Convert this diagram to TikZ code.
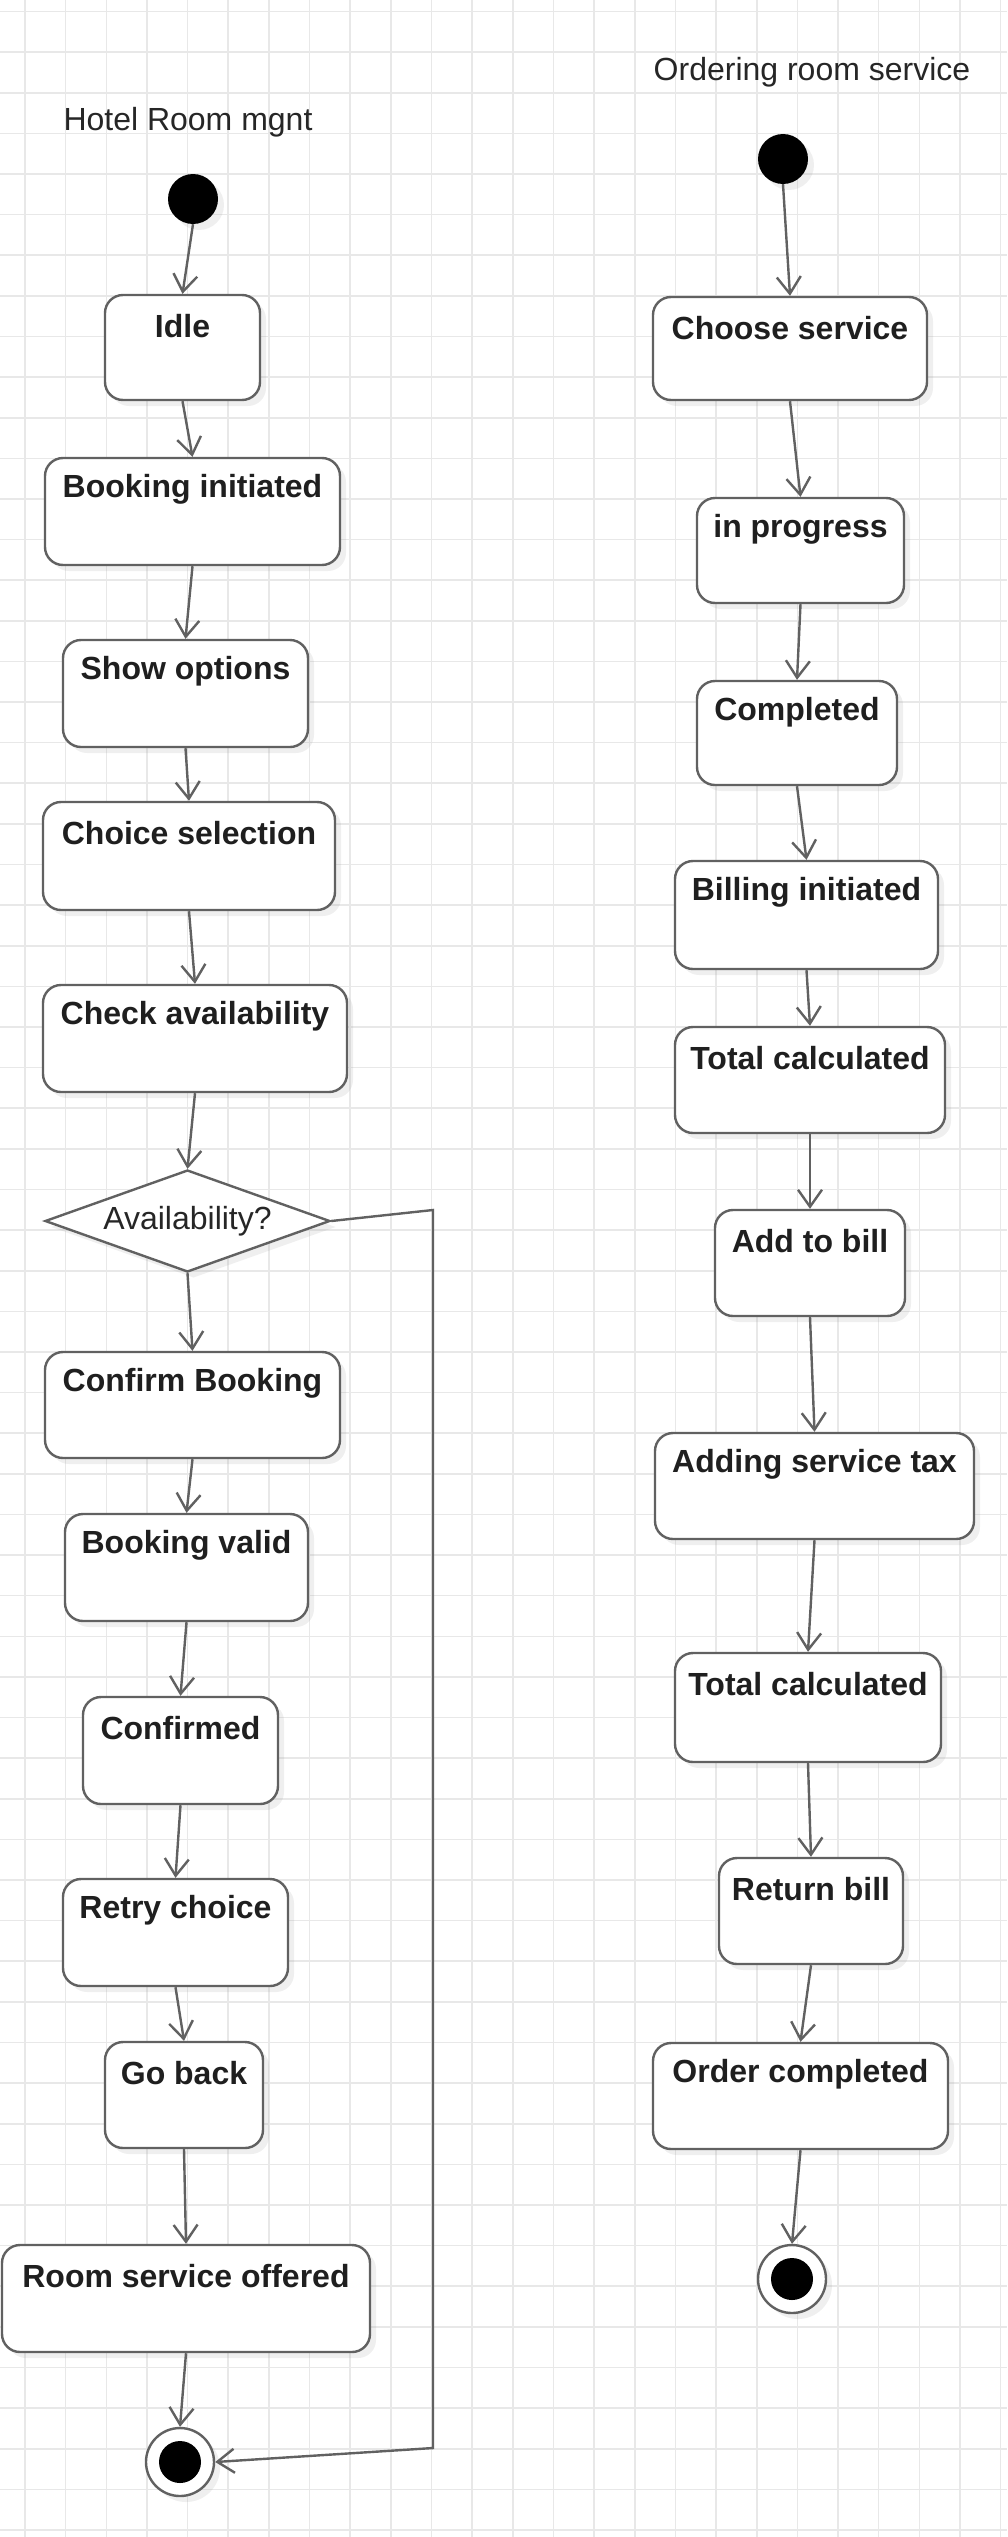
\documentclass[tikz,border=0pt]{standalone}
\usepackage{fontspec}
\setmainfont{Liberation Sans}
\usetikzlibrary{arrows.meta,shapes.geometric,shadows}

\tikzset{
  gridline/.style={black!9, line width=1.6pt},
  shade/.style={drop shadow={opacity=0.12, shadow xshift=6pt, shadow yshift=-6pt}},
  state/.style={draw=black!62, line width=2.4pt, fill=white, rounded corners=18pt, inner sep=0pt, shade},
  lbl/.style={anchor=center, yshift=-32pt, font=\bfseries\fontsize{32}{38}\selectfont, text=black!88},
  dlbl/.style={font=\fontsize{32}{38}\selectfont, text=black!85},
  decision/.style={diamond, draw=black!62, line width=2.4pt, fill=white, inner sep=0pt,
    minimum width=285pt, minimum height=102pt, shade},
  startdot/.style={circle, fill=black, minimum size=50pt, inner sep=0pt, shade},
  enddot/.style={circle, draw=black!62, line width=2.4pt, fill=white, minimum size=68pt, inner sep=0pt, shade,
    path picture={\fill[black] (path picture bounding box.center) circle (21pt);}},
  flow/.style={draw=black!62, line width=2.4pt, -{Straight Barb[length=17pt, width=24pt]}},
  title/.style={font=\fontsize{32}{38}\selectfont, text=black!85},
}

\begin{document}
\begin{tikzpicture}[x=1pt, y=-1pt]
% page and grid
\fill[white] (0,0) rectangle (1007,2537);
\useasboundingbox (0,0) rectangle (1007,2537);
\foreach \k in {0,...,24}
  \draw[gridline] ({25+40.65*\k},0) -- ++(0,2537);
\foreach \k in {0,...,62}
  \draw[gridline] (0,{11.5+40.62*\k}) -- ++(1007,0);

% titles
\node[title] (htitle) at (188,122) {Hotel Room mgnt};
\node[title] (otitle) at (812,72) {Ordering room service};

% start / end points
\node[startdot] (hstart) at (193,199) {};
\node[startdot] (ostart) at (783,159) {};
\node[enddot] (hend) at (180,2462) {};
\node[enddot] (oend) at (792,2279) {};

% states: name/x/y/width/height/text
\foreach \n/\x/\y/\w/\h/\t in {
    idle/182.5/347.5/155/105/Idle,
    binit/192.5/511.5/295/107/Booking initiated,
    showopt/185.5/693.5/245/107/Show options,
    choice/189/856/292/108/Choice selection,
    check/195/1038.5/304/107/Check availability,
    confirm/192.5/1405/295/106/Confirm Booking,
    bvalid/186.5/1567.5/243/107/Booking valid,
    confd/180.5/1750.5/195/107/Confirmed,
    retry/175.5/1932.5/225/107/Retry choice,
    goback/184/2095/158/106/Go back,
    rso/186/2298.5/368/107/Room service offered,
    choose/790/348.5/274/103/Choose service,
    inprog/800.5/550.5/207/105/in progress,
    compl/797/733/200/104/Completed,
    billinit/806.5/915/263/108/Billing initiated,
    totala/810/1080/270/106/Total calculated,
    addbill/810/1263/190/106/Add to bill,
    tax/814.5/1486/319/106/Adding service tax,
    totalb/808/1707.5/266/109/Total calculated,
    retbill/811/1911/184/106/Return bill,
    ordcomp/800.5/2096/295/106/Order completed}
  \node[state, minimum width=\w, minimum height=\h, label={[lbl]north:\t}] (\n) at (\x,\y) {};

% decision
\node[decision, label={[dlbl]center:Availability?}] (avail) at (187.5,1221) {};

% transitions
\foreach \a/\b in {hstart/idle, idle/binit, binit/showopt, showopt/choice, choice/check,
                   check/avail, avail/confirm, confirm/bvalid, bvalid/confd, confd/retry,
                   retry/goback, goback/rso, rso/hend,
                   ostart/choose, choose/inprog, inprog/compl, compl/billinit, billinit/totala,
                   totala/addbill, addbill/tax, tax/totalb, totalb/retbill, retbill/ordcomp,
                   ordcomp/oend}
  \draw[flow] (\a.south) -- (\b.north);

% not available: back to the end
\coordinate (loopT) at (433,1210);
\coordinate (loopB) at (433,2448);
\draw[flow] (avail.east) -- (loopT) -- (loopB) -- (hend.east);
\end{tikzpicture}
\end{document}
